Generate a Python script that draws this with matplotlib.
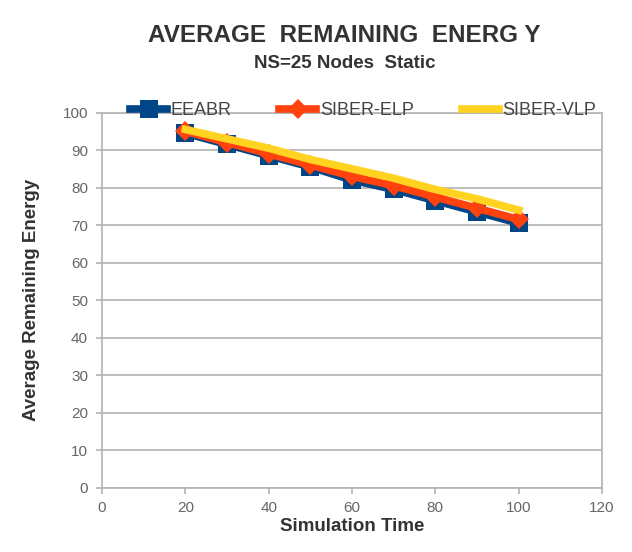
import matplotlib
matplotlib.use("Agg")
import matplotlib.pyplot as plt

# Simulation time points and average remaining energy per protocol
sim_time = [20, 30, 40, 50, 60, 70, 80, 90, 100]
eeabr = [94.5, 91.5, 88.5, 85.5, 82.0, 79.5, 76.5, 73.5, 70.5]
siber_elp = [95.0, 92.0, 89.0, 86.0, 83.0, 80.5, 77.5, 74.5, 71.5]
siber_vlp = [95.5, 93.0, 90.5, 87.5, 85.0, 82.5, 79.5, 77.0, 74.0]

x_ticks = [0, 20, 40, 60, 80, 100, 120]
y_ticks = [0, 10, 20, 30, 40, 50, 60, 70, 80, 90, 100]

plt.rcParams['font.family'] = ['Liberation Sans', 'DejaVu Sans']

fig = plt.figure(figsize=(6.32, 5.52), dpi=100)
ax = fig.add_axes([0.1614, 0.1168, 0.7911, 0.6792])

grid_c = '#b3b3b3'
ax.set_xlim(0, 120)
ax.set_ylim(0, 100)
ax.set_xticks(x_ticks)
ax.set_yticks(y_ticks)
ax.yaxis.grid(True, color=grid_c, linewidth=1.2)
ax.set_axisbelow(True)
for s in ax.spines.values():
    s.set_color(grid_c)
    s.set_linewidth(1.2)
ax.tick_params(axis='both', colors=grid_c, length=4, width=1.2,
               labelcolor='#666666', labelsize=11, pad=6)

ax.plot(sim_time, eeabr, color='#004586', linewidth=5.5, marker='s',
        markersize=13, markeredgewidth=0, label='EEABR', zorder=3)
ax.plot(sim_time, siber_elp, color='#ff420e', linewidth=5.5, marker='D',
        markersize=10.5, markeredgewidth=0, label='SIBER-ELP', zorder=4)
ax.plot(sim_time, siber_vlp, color='#ffd320', linewidth=5.5,
        label='SIBER-VLP', zorder=5)

ax.set_xlabel('Simulation Time', fontsize=13.5, fontweight='bold',
              color='#333333', labelpad=2)
ax.set_ylabel('Average Remaining Energy', fontsize=13.5, fontweight='bold',
              color='#333333', labelpad=16)

leg = ax.legend(loc='center left', bbox_to_anchor=(0.056, 1.005), ncol=3,
                frameon=False, handlelength=2.05, columnspacing=2.65,
                handletextpad=0.2, fontsize=13, borderaxespad=0,
                borderpad=0)
for t in leg.get_texts():
    t.set_color('#444444')

fig.text(0.545, 0.935, 'AVERAGE  REMAINING  ENERG Y', ha='center',
         va='center', fontsize=17.5, fontweight='bold', color='#333333')
fig.text(0.545, 0.885, 'NS=25 Nodes  Static', ha='center', va='center',
         fontsize=13.5, fontweight='bold', color='#333333')

fig.savefig('out.png', dpi=100)
